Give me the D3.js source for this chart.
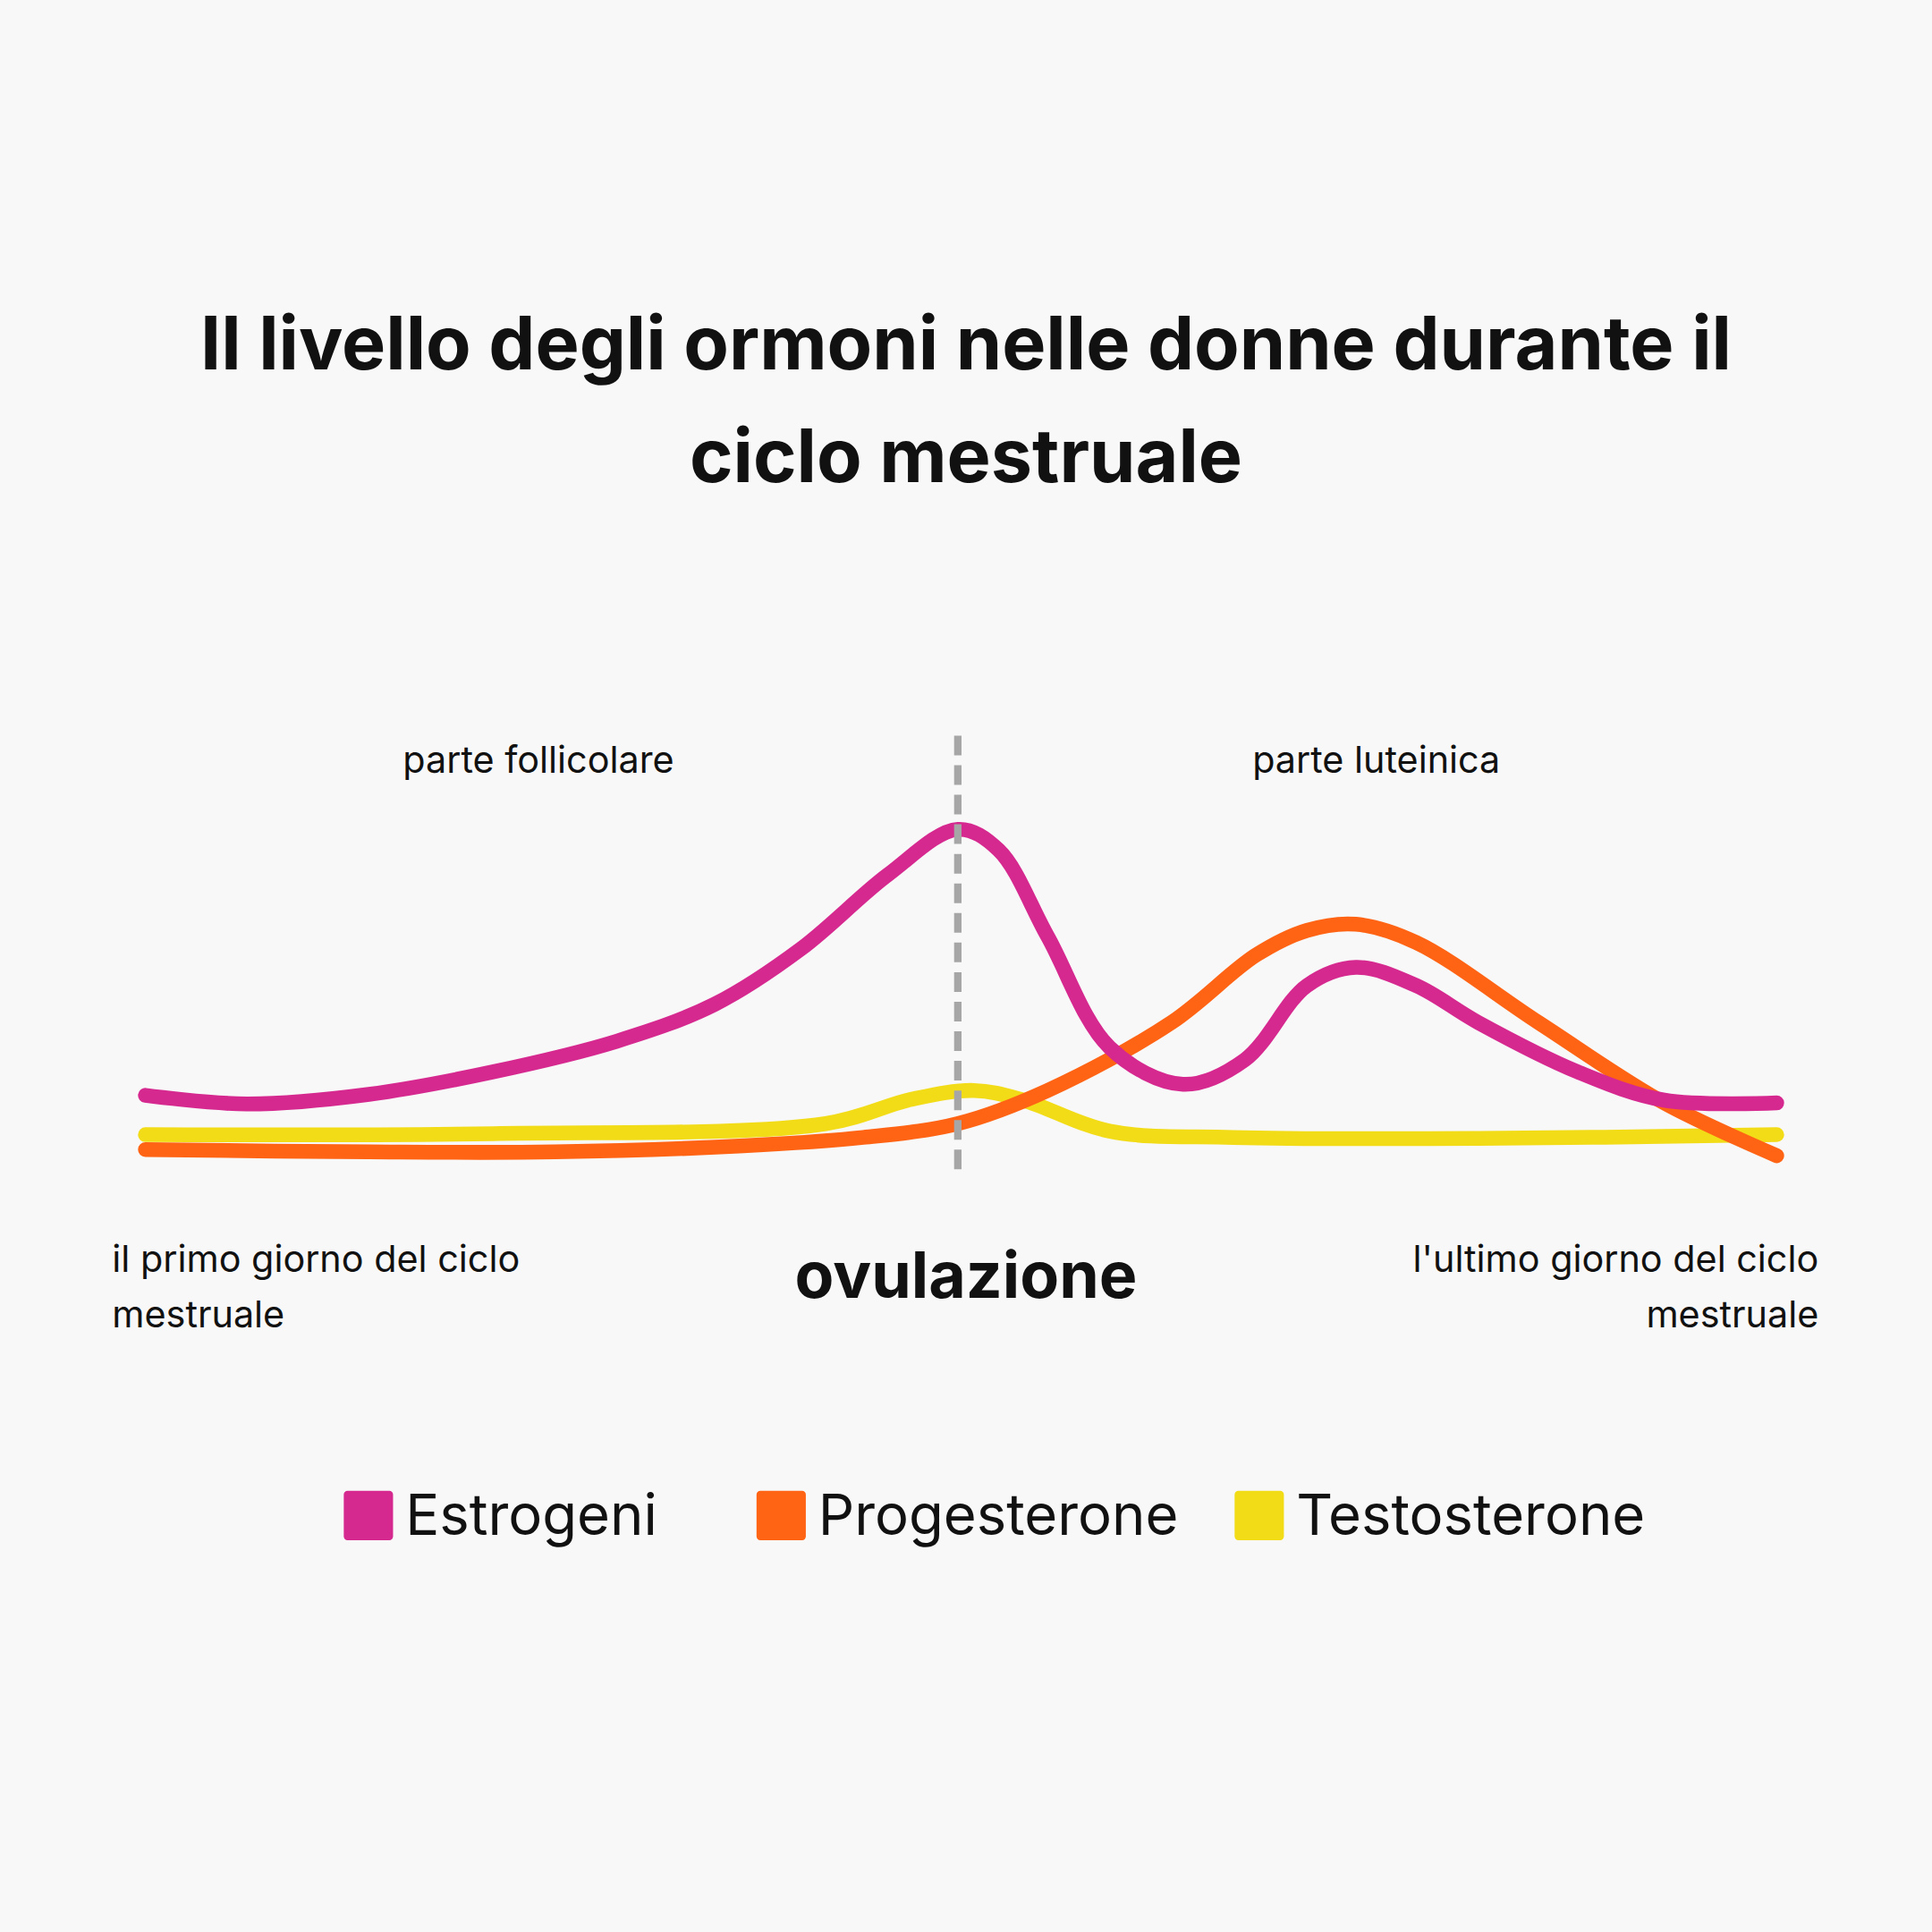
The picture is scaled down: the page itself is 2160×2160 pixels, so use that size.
<!DOCTYPE html>
<html>
<head>
<meta charset="utf-8">
<script src="https://cdn.jsdelivr.net/npm/d3@7"></script>
<style>
  html, body { margin: 0; padding: 0; background: #f8f8f8; }
  svg { display: block; }
  text { font-family: Inter, "Noto Sans", sans-serif; fill: #111; }
</style>
</head>
<body>
<script>
// data: x = position in cycle (0-100), v = relative level
const estrogeniX = [0, 6.2, 13.7, 21.3, 28.9, 34.9, 40.2, 45.5, 49.8, 52.3, 55.3, 59.1, 63.6, 67.4, 71.2, 74.2, 77.9, 81.7, 87.8, 93.1, 100];
const estrogeniV = [21.8, 19.3, 22.1, 28.6, 37.5, 48.2, 64.3, 85.7, 98.9, 92.9, 67.9, 35.7, 25, 32.1, 53.6, 58.9, 53.6, 42.9, 28.6, 20.4, 19.6];
const progX = [0, 13.7, 25.1, 36.4, 44, 49.8, 55.3, 62.9, 68.1, 71.2, 74.2, 77.9, 85.4, 93.1, 100];
const progV = [6.1, 5.4, 5.4, 7.1, 9.6, 13.6, 23.2, 42.9, 62.5, 69.6, 71.4, 66.1, 42.9, 19.6, 4.3];
const testoX = [0, 21.3, 41.7, 47, 50.8, 53.8, 59.1, 66.7, 81.8, 100];
const testoV = [10.4, 10.7, 13.6, 20.7, 23.2, 20.4, 11.4, 9.6, 9.3, 10.4];
const ovulazioneX = 49.8;

const series = ["Estrogeni", "Progesterone", "Testosterone"];
const colors = ["#d6298f", "#ff6314", "#f2dc18"];

const svg = d3.select("body").append("svg")
  .attr("width", 2160).attr("height", 2160)
  .attr("viewBox", "0 0 1568 1568");

svg.append("rect").attr("width", 1568).attr("height", 1568).attr("fill", "#f8f8f8");

const x = d3.scaleLinear().domain([0, 100]).range([118, 1442]);
const y = d3.scaleLinear().domain([0, 100]).range([950, 670]);

// title
svg.append("text").attr("x", 784).attr("y", 300).attr("text-anchor", "middle")
  .attr("font-size", 60).attr("font-weight", 700).text("Il livello degli ormoni nelle donne durante il");
svg.append("text").attr("x", 784).attr("y", 391).attr("text-anchor", "middle")
  .attr("font-size", 60).attr("font-weight", 700).text("ciclo mestruale");

// phase labels
svg.append("text").attr("x", 437).attr("y", 627).attr("text-anchor", "middle")
  .attr("font-size", 30).text("parte follicolare");
svg.append("text").attr("x", 1117).attr("y", 627).attr("text-anchor", "middle")
  .attr("font-size", 30).text("parte luteinica");

const line = d3.line().x(d => x(d[0])).y(d => y(d[1])).curve(d3.curveCatmullRom.alpha(0.5));

const data = [
  d3.zip(estrogeniX, estrogeniV),
  d3.zip(progX, progV),
  d3.zip(testoX, testoV)
];

// draw testosterone, progesterone, then estrogen on top
[2, 1, 0].forEach(i => {
  svg.append("path").datum(data[i])
    .attr("d", line)
    .attr("fill", "none")
    .attr("stroke", colors[i])
    .attr("stroke-width", 12)
    .attr("stroke-linecap", "round")
    .attr("stroke-linejoin", "round");
});

// ovulation line
svg.append("line")
  .attr("x1", x(ovulazioneX)).attr("x2", x(ovulazioneX))
  .attr("y1", 597).attr("y2", 950)
  .attr("stroke", "#a6a6a6").attr("stroke-width", 6)
  .attr("stroke-dasharray", "16,8");

// bottom labels
svg.append("text").attr("x", 91).attr("y", 1032).attr("font-size", 30).text("il primo giorno del ciclo");
svg.append("text").attr("x", 91).attr("y", 1077).attr("font-size", 30).text("mestruale");
svg.append("text").attr("x", 1476).attr("y", 1032).attr("text-anchor", "end").attr("font-size", 30).text("l'ultimo giorno del ciclo");
svg.append("text").attr("x", 1476).attr("y", 1077).attr("text-anchor", "end").attr("font-size", 30).text("mestruale");
svg.append("text").attr("x", 784).attr("y", 1053).attr("text-anchor", "middle")
  .attr("font-size", 52).attr("font-weight", 700).text("ovulazione");

// legend
const legendX = [279, 614, 1002];
series.forEach((s, i) => {
  svg.append("rect").attr("x", legendX[i]).attr("y", 1210).attr("width", 40).attr("height", 40)
    .attr("rx", 3).attr("fill", colors[i]);
  svg.append("text").attr("x", legendX[i] + 50).attr("y", 1246).attr("font-size", 46).text(s);
});
</script>
</body>
</html>
